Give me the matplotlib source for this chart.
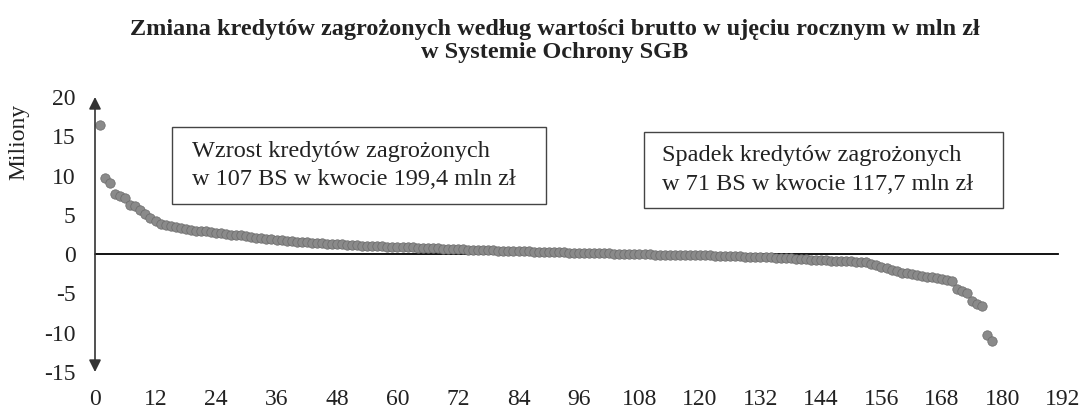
import matplotlib
matplotlib.use("Agg")
import matplotlib.pyplot as plt
from matplotlib.patches import Rectangle

# zmiana kredytow zagrozonych w bankach (mln zl), posortowane malejaco
wzrost = [16.4, 9.7, 9.1, 7.6, 7.4, 7.2, 6.3, 6.1, 5.6, 5.1,
          4.6, 4.2, 3.9, 3.7, 3.6, 3.5, 3.3, 3.2, 3.1, 3.0,
          2.95, 2.9, 2.8, 2.7, 2.65, 2.6, 2.5, 2.45, 2.4, 2.3,
          2.2, 2.1, 2.0, 1.95, 1.9, 1.8, 1.75, 1.7, 1.65, 1.6,
          1.55, 1.5, 1.45, 1.4, 1.38, 1.35, 1.3, 1.27, 1.24, 1.2,
          1.17, 1.14, 1.1, 1.07, 1.04, 1.0, 0.98, 0.96, 0.94, 0.92,
          0.9, 0.87, 0.85, 0.82, 0.8, 0.78, 0.75, 0.72, 0.7, 0.68,
          0.66, 0.63, 0.6, 0.58, 0.56, 0.54, 0.52, 0.5, 0.48, 0.46,
          0.44, 0.42, 0.4, 0.38, 0.36, 0.34, 0.32, 0.3, 0.29, 0.27,
          0.25, 0.24, 0.22, 0.2, 0.19, 0.17, 0.16, 0.14, 0.13, 0.12,
          0.1, 0.09, 0.07, 0.06, 0.05, 0.03, 0.02]
spadek = [-0.02, -0.03, -0.04, -0.05, -0.06, -0.07, -0.08, -0.09, -0.1, -0.11,
          -0.12, -0.13, -0.14, -0.15, -0.16, -0.18, -0.2, -0.22, -0.24, -0.26,
          -0.28, -0.3, -0.32, -0.34, -0.36, -0.38, -0.4, -0.43, -0.46, -0.5,
          -0.54, -0.58, -0.62,
          -0.66, -0.69, -0.72, -0.75, -0.78, -0.81, -0.84, -0.87, -0.9, -0.93,
          -0.96, -1.0, -1.05, -1.2, -1.4, -1.6, -1.8, -2.0, -2.2, -2.35,
          -2.45, -2.55, -2.65, -2.75, -2.85, -2.95, -3.05, -3.15, -3.25, -3.4,
          -4.4, -4.7, -5.0, -6.0, -6.3, -6.6, -10.3, -11.1]
xticks = list(range(0, 193, 12))
yticks = [-15, -10, -5, 0, 5, 10, 15, 20]

title = ("Zmiana kredytów zagrożonych według wartości brutto w ujęciu rocznym w mln zł\n"
         "w Systemie Ochrony SGB")
box_left = "Wzrost kredytów zagrożonych\nw 107 BS w kwocie 199,4 mln zł"
box_right = "Spadek kredytów zagrożonych\nw 71 BS w kwocie 117,7 mln zł"

plt.rcParams['font.family'] = ['Liberation Serif', 'DejaVu Serif']
plt.rcParams['axes.unicode_minus'] = False

W, H = 1083, 413
fig = plt.figure(figsize=(W / 100, H / 100), dpi=100)
ax = fig.add_axes([95 / W, 1 - 372 / H, (1063 - 95) / W, (372 - 97) / H])

vals = wzrost + spadek
idx = list(range(1, len(vals) + 1))
ax.scatter(idx, vals, s=46, color='#8a8a8a', edgecolors='#6a6a6a', linewidths=0.5, zorder=3)

ax.set_xlim(0, 192)
ax.set_ylim(-15, 20)
for s in ax.spines.values():
    s.set_visible(False)

# os zero i os Y ze strzalkami
ax.plot([0, 191], [0, 0], color='black', lw=1.3, zorder=2)
for y_end in (20, -15):
    ax.annotate('', xy=(0, y_end), xytext=(0, 0),
                arrowprops=dict(arrowstyle='-|>', color='#333333', lw=1.2,
                                mutation_scale=18, shrinkA=0, shrinkB=0))

ax.set_xticks(xticks)
ax.set_yticks(yticks)
ax.tick_params(length=0, labelsize=17, colors='#222222')
ax.tick_params(axis='x', pad=12)
ax.tick_params(axis='y', pad=14)

fig.text(19 / W, 1 - 142 / H, "Miliony", rotation=90, fontsize=17,
         ha='center', va='center', color='#222222')

fig.text(555 / W, 1 - 41 / H, title, fontsize=17.5, fontweight='bold',
         ha='center', va='center', linespacing=1.15, color='#222222')

for (x0, y0, x1, y1, tx), txt in zip([(172, 127, 546, 204, 192), (644, 132, 1003, 208, 662)],
                                     [box_left, box_right]):
    fig.patches.append(Rectangle((x0 / W, 1 - y1 / H), (x1 - x0) / W, (y1 - y0) / H,
                                 transform=fig.transFigure, fill=False,
                                 edgecolor='#444444', lw=1.0))
    fig.text(tx / W, 1 - (y0 + y1) / 2 / H, txt, fontsize=17.5, ha='left', va='center',
             linespacing=1.45, color='#222222')

fig.savefig("out.png", dpi=100)
